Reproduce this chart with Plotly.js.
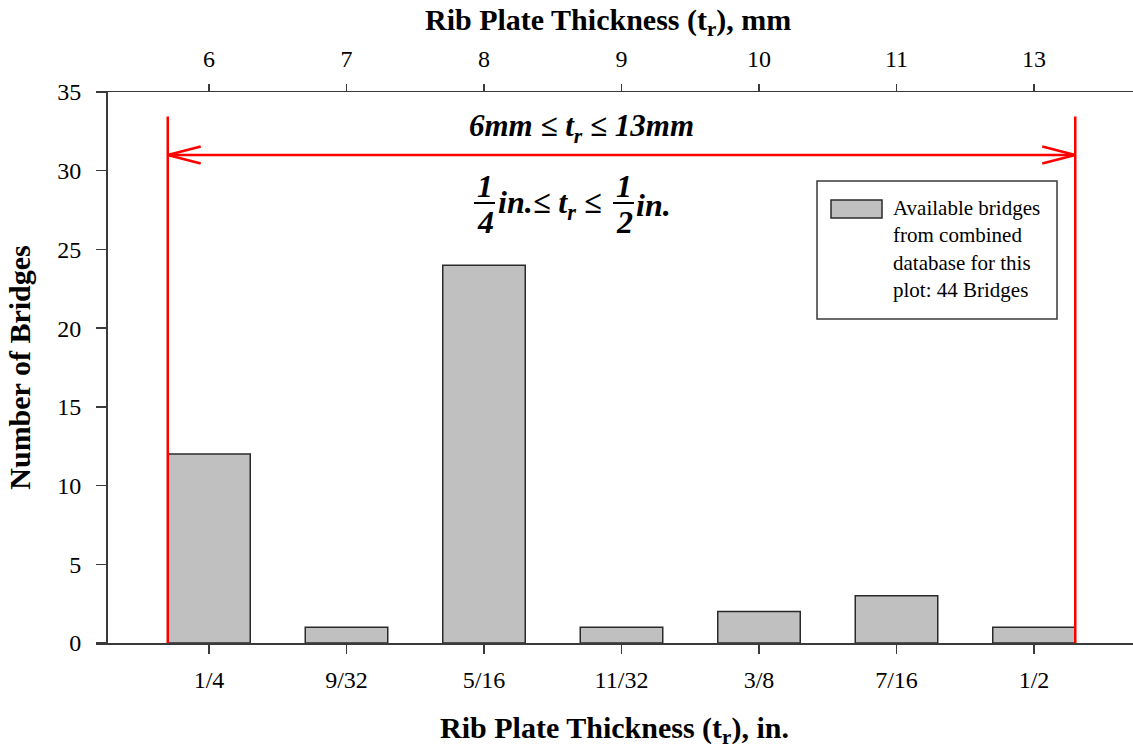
<!DOCTYPE html>
<html>
<head>
<meta charset="utf-8">
<script src="https://cdn.plot.ly/plotly-3.0.1.min.js"></script>
<style>html,body{margin:0;padding:0;background:#fff;overflow:hidden;}</style>
</head>
<body>
<div id="chart" style="width:1133px;height:749px;"></div>
<script>
// ---- data ----
const inchLabels = ['1/4', '9/32', '5/16', '11/32', '3/8', '7/16', '1/2'];
const mmLabels = ['6', '7', '8', '9', '10', '11', '13'];
const bridgeCounts = [12, 1, 24, 1, 2, 3, 1];
const legendText = 'Available bridges<br>from combined<br>database for this<br>plot: 44 Bridges';

// ---- layout helpers (pixel -> paper) ----
const W = 1133, H = 749, L = 96, R = 0, T = 92, B = 106;
const PW = W - L - R, PH = H - T - B;
const px = x => (x - L) / PW;
const py = y => (H - B - y) / PH;

const serif = 'Liberation Serif';
const axisColor = '#3a3a3a';
const red = '#ff0000';

// range markers (category-index units) for the red bracket
const bracketLeft = -0.3, bracketRight = 6.3, bracketTop = 33.45, arrowY = 31;
const armDx = 0.24, armDy = 0.54;

const traces = [
  {
    type: 'bar', x: inchLabels, y: bridgeCounts, width: 0.6,
    marker: {color: '#c0c0c0', line: {color: '#2a2a2a', width: 1.5}},
    name: 'Available bridges from combined database for this plot: 44 Bridges',
    showlegend: false, hoverinfo: 'x+y'
  },
  {
    type: 'scatter', mode: 'markers', x: mmLabels, y: bridgeCounts,
    xaxis: 'x2', marker: {opacity: 0}, showlegend: false, hoverinfo: 'skip'
  }
];

const shapes = [
  // red bracket
  {type: 'line', xref: 'x', yref: 'y', x0: bracketLeft, x1: bracketLeft, y0: 0, y1: bracketTop, line: {color: red, width: 2.5}},
  {type: 'line', xref: 'x', yref: 'y', x0: bracketRight, x1: bracketRight, y0: 0, y1: bracketTop, line: {color: red, width: 2.5}},
  {type: 'line', xref: 'x', yref: 'y', x0: bracketLeft, x1: bracketRight, y0: arrowY, y1: arrowY, line: {color: red, width: 2.5}},
  {type: 'line', xref: 'x', yref: 'y', x0: bracketLeft, x1: bracketLeft + armDx, y0: arrowY, y1: arrowY + armDy, line: {color: red, width: 2.5}},
  {type: 'line', xref: 'x', yref: 'y', x0: bracketLeft, x1: bracketLeft + armDx, y0: arrowY, y1: arrowY - armDy, line: {color: red, width: 2.5}},
  {type: 'line', xref: 'x', yref: 'y', x0: bracketRight, x1: bracketRight - armDx, y0: arrowY, y1: arrowY + armDy, line: {color: red, width: 2.5}},
  {type: 'line', xref: 'x', yref: 'y', x0: bracketRight, x1: bracketRight - armDx, y0: arrowY, y1: arrowY - armDy, line: {color: red, width: 2.5}},
  // fraction bars
  {type: 'line', xref: 'paper', yref: 'paper', x0: px(474), x1: px(495), y0: py(203), y1: py(203), line: {color: '#000', width: 2}},
  {type: 'line', xref: 'paper', yref: 'paper', x0: px(613), x1: px(634), y0: py(203), y1: py(203), line: {color: '#000', width: 2}},
  // legend box
  {type: 'rect', xref: 'paper', yref: 'paper', x0: px(817), x1: px(1057), y0: py(319), y1: py(181), line: {color: axisColor, width: 1.5}, fillcolor: 'rgba(255,255,255,0)'},
  {type: 'rect', xref: 'paper', yref: 'paper', x0: px(831), x1: px(882), y0: py(218), y1: py(200), line: {color: '#2a2a2a', width: 1.5}, fillcolor: '#c0c0c0'}
];

const bi = {family: serif, size: 32, color: '#000'};
const annotations = [
  {xref: 'paper', yref: 'paper', x: px(581), y: py(128), text: '<b><i>6mm ≤ t<sub>r</sub> ≤ 13mm</i></b>', showarrow: false, font: {family: serif, size: 31, color: '#000'}, xanchor: 'center', yanchor: 'middle'},
  {xref: 'paper', yref: 'paper', x: px(485), y: py(186), text: '<b><i>1</i></b>', showarrow: false, font: bi, xanchor: 'center', yanchor: 'middle'},
  {xref: 'paper', yref: 'paper', x: px(485), y: py(222), text: '<b><i>4</i></b>', showarrow: false, font: bi, xanchor: 'center', yanchor: 'middle'},
  {xref: 'paper', yref: 'paper', x: px(496), y: py(205), text: '<b><i>in.≤ t<sub>r</sub> ≤</i></b>', showarrow: false, font: bi, xanchor: 'left', yanchor: 'middle'},
  {xref: 'paper', yref: 'paper', x: px(624), y: py(186), text: '<b><i>1</i></b>', showarrow: false, font: bi, xanchor: 'center', yanchor: 'middle'},
  {xref: 'paper', yref: 'paper', x: px(624), y: py(222), text: '<b><i>2</i></b>', showarrow: false, font: bi, xanchor: 'center', yanchor: 'middle'},
  {xref: 'paper', yref: 'paper', x: px(634), y: py(205), text: '<b><i>in.</i></b>', showarrow: false, font: bi, xanchor: 'left', yanchor: 'middle'},
  // legend text
  {xref: 'paper', yref: 'paper', x: px(891), y: py(194), text: legendText, showarrow: false, align: 'left', font: {family: serif, size: 21, color: '#000'}, xanchor: 'left', yanchor: 'top'},
  // top axis title
  {xref: 'paper', yref: 'paper', x: px(608), y: py(22), text: '<b>Rib Plate Thickness (t<sub>r</sub>), mm</b>', showarrow: false, font: {family: serif, size: 30, color: '#000'}, xanchor: 'center', yanchor: 'middle'}
];

const layout = {
  width: W, height: H,
  margin: {l: L, r: R, t: T, b: B, pad: 0},
  paper_bgcolor: '#fff', plot_bgcolor: '#fff',
  font: {family: serif, size: 24, color: '#000'},
  showlegend: false,
  bargap: 0.4,
  xaxis: {
    type: 'category', categoryarray: inchLabels, categoryorder: 'array',
    range: [(L - 209) / 137.5, (W - 209) / 137.5],
    showline: true, linecolor: axisColor, linewidth: 1.5,
    ticks: 'outside', ticklen: 9, tickwidth: 1.3, tickcolor: axisColor,
    ticklabelstandoff: 6,
    showgrid: false, zeroline: false,
    tickfont: {family: serif, size: 24, color: '#000'},
    title: {text: '<b>Rib Plate Thickness (t<sub>r</sub>), in.</b>', font: {family: serif, size: 30, color: '#000'}, standoff: 24}
  },
  xaxis2: {
    type: 'category', categoryarray: mmLabels, categoryorder: 'array',
    overlaying: 'x', side: 'top', anchor: 'y',
    range: [(L - 209) / 137.5, (W - 209) / 137.5],
    showline: true, linecolor: axisColor, linewidth: 1.5,
    ticks: 'outside', ticklen: 7, tickwidth: 1.3, tickcolor: axisColor,
    ticklabelstandoff: 7,
    showgrid: false, zeroline: false,
    tickfont: {family: serif, size: 24, color: '#000'}
  },
  yaxis: {
    range: [0, 35], anchor: 'free', position: 10 / PW,
    tickvals: [0, 5, 10, 15, 20, 25, 30, 35],
    showline: true, linecolor: axisColor, linewidth: 1.5,
    ticks: 'outside', ticklen: 10, tickwidth: 1.3, tickcolor: axisColor,
    ticklabelstandoff: 10,
    showgrid: false, zeroline: false,
    tickfont: {family: serif, size: 24, color: '#000'},
    title: {text: '<b>Number of Bridges</b>', font: {family: serif, size: 30, color: '#000'}, standoff: 16}
  },
  shapes: shapes,
  annotations: annotations
};

Plotly.newPlot('chart', traces, layout, {displayModeBar: false, staticPlot: true});
</script>
</body>
</html>
